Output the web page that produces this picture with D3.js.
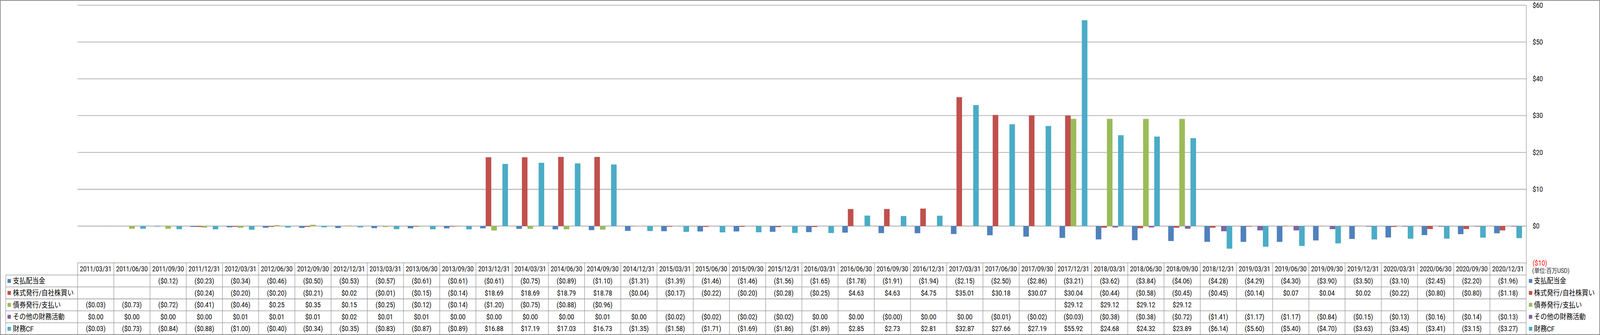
<!DOCTYPE html>
<html lang="ja">
<head>
<meta charset="UTF-8">
<title>財務CF</title>
<style>
    html, body{
        margin:0;
        padding:0;
        background:#fff;
        overflow:hidden;
    }
    svg{
        display:block;
        width:100vw;
        height:100vh;
    }
    svg text{
        font-family: Roboto, "Noto Sans CJK JP", sans-serif;
    }
</style>
<script src="https://cdn.jsdelivr.net/npm/d3@7/dist/d3.min.js"></script>
</head>
<body>
<div id="container"></div>
<script>

var categories = ["2011/03/31","2011/06/30","2011/09/30","2011/12/31","2012/03/31","2012/06/30","2012/09/30","2012/12/31",
    "2013/03/31","2013/06/30","2013/09/30","2013/12/31","2014/03/31","2014/06/30","2014/09/30","2014/12/31",
    "2015/03/31","2015/06/30","2015/09/30","2015/12/31","2016/03/31","2016/06/30","2016/09/30","2016/12/31",
    "2017/03/31","2017/06/30","2017/09/30","2017/12/31","2018/03/31","2018/06/30","2018/09/30","2018/12/31",
    "2019/03/31","2019/06/30","2019/09/30","2019/12/31","2020/03/31","2020/06/30","2020/09/30","2020/12/31"];

var seriesNames = ["支払配当金", "株式発行/自社株買い", "債券発行/支払い", "その他の財務活動", "財務CF"];
var seriesColors = ["#4F81BD", "#C0504D", "#9BBB59", "#8064A2", "#4BACC6"];

var dividends = [null, null, -0.12, -0.23, -0.34, -0.46, -0.50, -0.53, -0.57, -0.61, -0.61, -0.61, -0.75, -0.89, -1.10, -1.31,
    -1.39, -1.46, -1.46, -1.56, -1.65, -1.78, -1.91, -1.94, -2.15, -2.50, -2.86, -3.21, -3.62, -3.84, -4.06, -4.28,
    -4.29, -4.30, -3.90, -3.50, -3.10, -2.45, -2.20, -1.96];

var stock = [null, null, null, -0.24, -0.20, -0.20, -0.21, 0.02, -0.01, -0.15, -0.14, 18.69, 18.69, 18.79, 18.78, -0.04,
    -0.17, -0.22, -0.20, -0.28, -0.25, 4.63, 4.63, 4.75, 35.01, 30.18, 30.07, 30.04, -0.44, -0.58, -0.45, -0.45,
    -0.14, 0.07, 0.04, 0.02, -0.22, -0.80, -0.80, -1.18];

var debt = [-0.03, -0.73, -0.72, -0.41, -0.46, 0.25, 0.35, 0.15, -0.25, -0.12, -0.14, -1.20, -0.75, -0.88, -0.96, null,
    null, null, null, null, null, null, null, null, null, null, null, 29.12, 29.12, 29.12, 29.12, null,
    null, null, null, null, null, null, null, null];

var other = [0.00, 0.00, 0.00, 0.00, 0.01, 0.01, 0.01, 0.02, 0.01, 0.01, 0.00, 0.00, 0.00, 0.00, 0.01, 0.00,
    -0.02, -0.02, -0.02, -0.02, 0.00, 0.00, -0, 0.00, 0.00, -0.01, -0.02, -0.03, -0.38, -0.38, -0.72, -1.41,
    -1.17, -1.17, -0.84, -0.15, -0.13, -0.16, -0.14, -0.13];

var financingCF = [-0.03, -0.73, -0.84, -0.88, -1.00, -0.40, -0.34, -0.35, -0.83, -0.87, -0.89, 16.88, 17.19, 17.03, 16.73, -1.35,
    -1.58, -1.71, -1.69, -1.86, -1.89, 2.85, 2.73, 2.81, 32.87, 27.66, 27.19, 55.92, 24.68, 24.32, 23.89, -6.14,
    -5.60, -5.40, -4.70, -3.63, -3.45, -3.41, -3.15, -3.27];

var seriesValues = [dividends, stock, debt, other, financingCF];

var yTicks = [-10, 0, 10, 20, 30, 40, 50, 60];
var unitLabel = "(単位:百万USD)";

var w = 4701;
var h = 858;
var plotLeft = 228, plotRight = 4484;
var tableTop = 673.3, headerH = 31, rowH = 30.6;
var lineColor = "#8c8c8c";

function money(v) {
    if (v < 0 || Object.is(v, -0)) return "($" + Math.abs(v).toFixed(2) + ")";
    return "$" + v.toFixed(2);
}

var xScale = d3.scaleBand().domain(categories).range([plotLeft, plotRight]);
var xSeries = d3.scaleBand().domain(seriesNames).range([0, xScale.bandwidth()])
        .paddingInner(0).paddingOuter(0.75);
var yScale = d3.scaleLinear().domain([-10, 60]).range([tableTop, 13.3]);

// fill the whole window whatever its real size
var svg = d3.select("#container")
        .append("svg")
        .attr("viewBox", "0 0 " + w + " " + h)
        .attr("preserveAspectRatio", "none");

// outer border
svg.append("rect")
        .attr("x", 1).attr("y", 1)
        .attr("width", w - 2).attr("height", h - 2)
        .attr("fill", "#fff")
        .attr("stroke", lineColor)
        .attr("stroke-width", 2);

// gridlines
svg.append("g")
        .selectAll("line")
        .data(yTicks)
        .enter()
        .append("line")
        .attr("x1", plotLeft)
        .attr("x2", plotRight)
        .attr("y1", function(d) { return yScale(d); })
        .attr("y2", function(d) { return yScale(d); })
        .attr("stroke", lineColor)
        .attr("stroke-width", 1.3);

// bars
seriesNames.forEach(function(name, i) {
    var pts = categories.map(function(c, j) {
        return {c: c, v: seriesValues[i][j]};
    }).filter(function(d) { return d.v !== null; });

    svg.append("g")
            .selectAll("rect")
            .data(pts)
            .enter()
            .append("rect")
            .attr("x", function(d) { return xScale(d.c) + xSeries(name); })
            .attr("y", function(d) { return yScale(Math.max(0, d.v)); })
            .attr("width", xSeries.bandwidth())
            .attr("height", function(d) { return Math.abs(yScale(d.v) - yScale(0)); })
            .attr("fill", seriesColors[i]);
});

// right axis
var axis = d3.axisRight(yScale)
        .tickValues(yTicks)
        .tickSize(0)
        .tickSizeOuter(0)
        .tickPadding(19)
        .tickFormat(function(d) { return d < 0 ? "($" + Math.abs(d) + ")" : "$" + d; });

var axisG = svg.append("g")
        .attr("transform", "translate(" + plotRight + ",0)")
        .call(axis);
axisG.select(".domain").attr("stroke", lineColor).attr("stroke-width", 1.3);
axisG.selectAll("text")
        .attr("font-size", "18px")
        .attr("fill", function(d) { return d < 0 ? "#ff0000" : "#000"; });

// data table
var table = svg.append("g");
var rowTop = tableTop + headerH;
var tableBottom = rowTop + rowH * seriesNames.length;

// horizontal lines
d3.range(seriesNames.length + 1).forEach(function(k) {
    table.append("line")
            .attr("x1", 17).attr("x2", plotRight)
            .attr("y1", rowTop + k * rowH).attr("y2", rowTop + k * rowH)
            .attr("stroke", lineColor).attr("stroke-width", 1.3);
});
// vertical lines
table.selectAll("line.col")
        .data(categories.concat(["end"]))
        .enter()
        .append("line")
        .attr("class", "col")
        .attr("x1", function(d, i) { return plotLeft + i * xScale.step(); })
        .attr("x2", function(d, i) { return plotLeft + i * xScale.step(); })
        .attr("y1", tableTop)
        .attr("y2", tableBottom)
        .attr("stroke", lineColor).attr("stroke-width", 1.3);
table.append("line")
        .attr("x1", 17).attr("x2", 17)
        .attr("y1", rowTop).attr("y2", tableBottom)
        .attr("stroke", lineColor).attr("stroke-width", 1.3);

// header labels
table.selectAll("text.hdr")
        .data(categories)
        .enter()
        .append("text")
        .attr("class", "hdr")
        .attr("x", function(d) { return xScale(d) + xScale.bandwidth() / 2; })
        .attr("y", tableTop + headerH / 2)
        .attr("dy", "0.36em")
        .attr("text-anchor", "middle")
        .attr("font-size", "17.5px")
        .text(function(d) { return d; });

// cell values
seriesNames.forEach(function(name, i) {
    var cy = rowTop + rowH * (i + 0.5);
    table.append("g")
            .selectAll("text")
            .data(categories.map(function(c, j) { return {c: c, v: seriesValues[i][j]}; })
                    .filter(function(d) { return d.v !== null; }))
            .enter()
            .append("text")
            .attr("x", function(d) { return xScale(d.c) + xScale.bandwidth() / 2; })
            .attr("y", cy)
            .attr("dy", "0.36em")
            .attr("text-anchor", "middle")
            .attr("font-size", "18px")
            .text(function(d) { return money(d.v); });

    // left legend keys
    table.append("rect")
            .attr("x", 22).attr("y", cy - 5)
            .attr("width", 10).attr("height", 10)
            .attr("fill", seriesColors[i]);
    table.append("text")
            .attr("x", 38).attr("y", cy)
            .attr("dy", "0.36em")
            .attr("font-size", "19px")
            .text(name);

    // right legend keys
    svg.append("rect")
            .attr("x", 4492).attr("y", cy - 5)
            .attr("width", 10).attr("height", 10)
            .attr("fill", seriesColors[i]);
    svg.append("text")
            .attr("x", 4507).attr("y", cy)
            .attr("dy", "0.36em")
            .attr("font-size", "19px")
            .text(name);
});

svg.append("text")
        .attr("x", 4502)
        .attr("y", 693)
        .attr("dy", "0.36em")
        .attr("font-size", "16px")
        .attr("fill", "#222")
        .text(unitLabel);

</script>
</body>
</html>
